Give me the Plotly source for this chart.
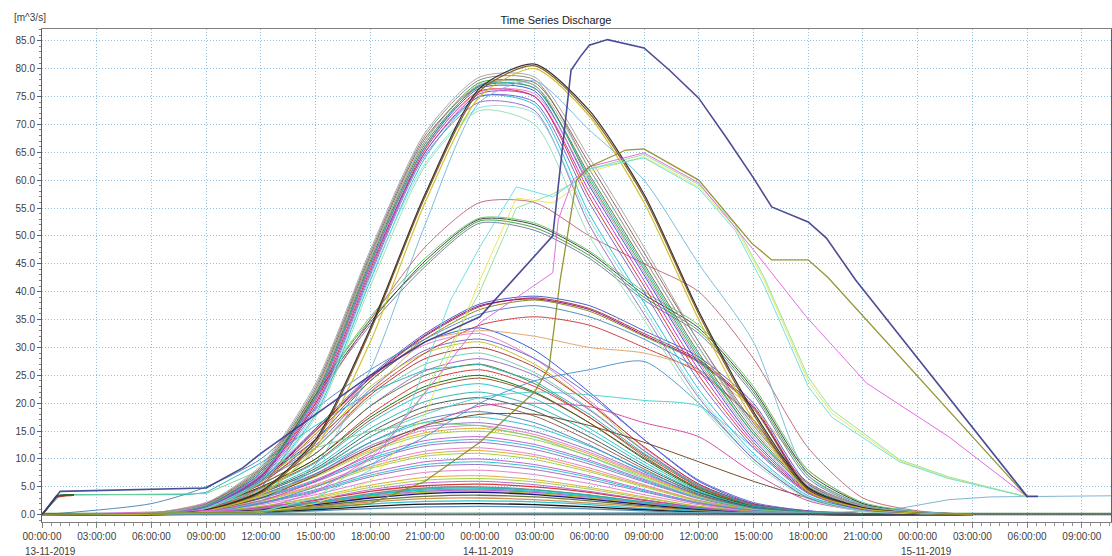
import plotly.graph_objects as go
from datetime import datetime, timedelta

T0 = datetime(2019, 11, 13)

# Common sampling hours (from 13-11-2019 00:00) used by the catchment rows
GRID_H = [0, 6, 9, 12, 15, 18, 21, 24, 27, 30, 33, 36, 39, 42, 45, 48, 51]

# Main bundle, peaks 72-79 m3/s around 14-11 01:00
MAIN_BUNDLE = [
    [0, 0.1, 1.5, 7.0, 20.0, 44.0, 65.5, 76.0, 75.0, 57.0, 41.0, 25.0, 12.5, 4.0, 1.0, 0.3, 0.1],
    [0, 0.1, 1.8, 8.0, 22.0, 46.0, 67.0, 77.5, 77.0, 60.0, 44.0, 28.0, 14.5, 4.8, 1.2, 0.4, 0.1],
    [0, 0.1, 1.2, 6.0, 18.0, 42.0, 64.0, 75.0, 73.5, 54.0, 38.0, 22.5, 11.0, 3.4, 0.8, 0.3, 0.0],
    [0, 0.2, 2.0, 8.5, 23.0, 47.0, 68.0, 78.0, 78.0, 62.0, 46.0, 30.0, 16.0, 5.5, 1.4, 0.4, 0.1],
    [0, 0.1, 1.4, 6.5, 19.0, 43.0, 64.5, 74.0, 72.5, 52.0, 36.0, 21.0, 10.0, 3.0, 0.7, 0.2, 0.0],
    [0, 0.1, 1.6, 7.5, 21.0, 45.0, 66.0, 76.5, 76.0, 59.0, 43.0, 27.0, 13.5, 4.4, 1.1, 0.3, 0.1],
    [0, 0.1, 1.3, 6.2, 18.5, 42.5, 63.0, 73.0, 72.0, 53.0, 37.0, 21.5, 10.5, 3.2, 0.8, 0.2, 0.0],
    [0, 0.2, 1.9, 8.2, 22.5, 46.5, 67.5, 77.0, 77.5, 63.0, 47.0, 31.0, 16.5, 5.8, 1.5, 0.4, 0.1],
    [0, 0.1, 1.5, 7.0, 20.5, 44.5, 65.0, 75.5, 75.0, 58.0, 42.0, 26.0, 13.0, 4.2, 1.0, 0.3, 0.1],
    [0, 0.1, 1.7, 7.8, 21.5, 45.5, 66.5, 76.8, 76.5, 61.0, 45.0, 29.0, 15.0, 5.0, 1.3, 0.4, 0.1],
    [0, 0.1, 1.1, 5.8, 17.5, 41.0, 62.5, 72.5, 70.0, 50.0, 35.0, 20.0, 9.5, 2.8, 0.6, 0.2, 0.0],
    [0, 0.2, 2.1, 8.8, 23.5, 47.5, 68.5, 78.5, 78.5, 64.0, 48.0, 31.0, 16.0, 5.6, 1.5, 0.5, 0.1],
    [0, 0.1, 1.5, 7.2, 20.8, 44.8, 65.8, 75.8, 75.5, 59.5, 43.5, 27.5, 14.0, 4.6, 1.1, 0.3, 0.1],
    [0, 0.1, 1.6, 7.4, 21.0, 45.0, 66.0, 77.0, 76.5, 60.5, 44.5, 28.5, 14.5, 4.8, 1.2, 0.4, 0.1],
    [0, 0.1, 1.4, 6.8, 19.5, 43.5, 65.0, 75.0, 74.0, 56.0, 40.0, 24.0, 12.0, 3.8, 0.9, 0.3, 0.0],
    [0, 0.2, 1.8, 8.0, 22.0, 46.0, 67.0, 77.2, 77.0, 62.0, 46.0, 30.0, 15.5, 5.2, 1.4, 0.4, 0.1],
]
MAIN_COLORS = ['#d62728', '#2ca02c', '#17becf', '#7f7f7f', '#9467bd', '#1f4fd0', '#80e0e0',
               '#8c564b', '#c020c0', '#556b2f', '#90e0b0', '#a0a0a0', '#e377c2', '#20b2aa',
               '#6a5acd', '#b0b0b0']

# Late-peaking group, ~80.5 m3/s at 14-11 03:00
PEAK80 = [
    [0, 0.1, 0.8, 4.0, 13.0, 33.0, 57.0, 76.0, 80.5, 72.0, 57.0, 36.0, 18.0, 4.5, 1.2, 0.3, 0.1],
    [0, 0.1, 0.9, 4.2, 13.5, 33.5, 57.5, 76.5, 80.8, 72.5, 57.5, 36.5, 18.5, 4.8, 1.3, 0.3, 0.1],
    [0, 0.1, 0.7, 3.6, 12.0, 31.0, 56.0, 75.0, 80.0, 71.5, 56.0, 35.0, 17.0, 4.2, 1.1, 0.3, 0.1],
]
PEAK80_COLORS = ['#8b4a10', '#202020', '#c8c020']

# Slow-receding light blue station
SLOW75 = [0, 0.1, 0.5, 2.5, 9.0, 26.0, 52.0, 74.0, 77.8, 69.0, 60.0, 45.0, 31.0, 7.0, 1.8, 0.5, 0.1]

# Single rose station peaking ~57
ROSE57 = [0, 0.1, 1.0, 5.0, 20.0, 35.0, 48.0, 56.0, 56.0, 50.0, 45.0, 40.0, 28.0, 12.0, 3.0, 0.7, 0.1]

# Group peaking ~53
PEAK53 = [
    [0, 0.1, 1.5, 7.0, 22.0, 35.0, 45.0, 52.7, 51.5, 46.5, 39.0, 33.0, 22.0, 7.0, 1.8, 0.5, 0.1],
    [0, 0.1, 1.4, 6.8, 21.5, 34.5, 45.5, 53.0, 52.0, 47.0, 39.5, 33.5, 22.5, 7.5, 2.0, 0.5, 0.1],
    [0, 0.1, 1.3, 6.5, 21.0, 34.0, 44.5, 52.3, 51.0, 46.0, 38.5, 32.5, 21.5, 6.5, 1.6, 0.4, 0.1],
    [0, 0.1, 1.5, 7.0, 22.0, 35.5, 46.0, 53.2, 52.3, 47.3, 40.0, 34.0, 23.0, 8.0, 2.2, 0.6, 0.1],
]
PEAK53_COLORS = ['#2ca02c', '#303030', '#7070a0', '#60c060']

# Group peaking ~38
PEAK38 = [
    [0, 0.1, 1.5, 6.0, 15.0, 24.5, 32.0, 37.3, 38.9, 37.0, 32.5, 27.8, 19.5, 5.0, 1.2, 0.3, 0.1],
    [0, 0.1, 1.6, 6.3, 15.5, 25.0, 32.5, 37.8, 39.2, 37.5, 33.0, 28.3, 20.0, 5.5, 1.3, 0.3, 0.1],
    [0, 0.1, 1.4, 5.8, 14.5, 24.0, 31.5, 36.8, 38.5, 36.5, 32.0, 27.3, 19.0, 4.6, 1.1, 0.3, 0.0],
    [0, 0.1, 1.5, 6.1, 15.2, 24.7, 32.2, 37.5, 38.7, 36.8, 32.2, 27.5, 19.2, 4.8, 1.2, 0.3, 0.1],
    [0, 0.1, 1.3, 5.5, 13.5, 22.0, 29.0, 34.0, 35.5, 34.0, 30.0, 25.5, 17.0, 4.2, 1.0, 0.2, 0.0],
    [0, 2.0, 5.0, 10.0, 19.0, 26.0, 31.5, 36.0, 37.5, 35.5, 31.5, 26.0, 17.0, 4.5, 1.1, 0.3, 0.1],
    [0, 0.1, 1.0, 4.5, 12.0, 22.0, 31.0, 33.0, 32.0, 30.0, 29.0, 26.0, 19.0, 8.0, 2.0, 0.5, 0.1],
]
PEAK38_COLORS = ['#b22222', '#4050c0', '#808000', '#800080', '#d03030', '#4682b4', '#e0a060']

# Individual mid-level stations with long recessions
MID_EXTRA = [
    [0, 0.1, 0.5, 2.0, 5.0, 9.0, 14.0, 20.0, 24.0, 26.0, 27.5, 20.0, 10.0, 3.0, 0.8, 0.2, 0.0],
    [0, 0.1, 0.8, 3.0, 8.0, 14.0, 18.0, 21.0, 22.0, 21.5, 20.5, 19.5, 12.0, 4.0, 1.0, 0.3, 0.1],
    [0, 0.1, 0.8, 3.0, 7.0, 12.0, 16.0, 18.0, 18.0, 16.0, 13.0, 9.5, 6.0, 3.0, 1.0, 0.3, 0.1],
    [0, 0.1, 0.6, 2.5, 6.0, 11.0, 16.0, 19.5, 20.0, 19.4, 16.5, 14.0, 7.5, 2.5, 0.7, 0.2, 0.0],
]
MID_EXTRA_COLORS = ['#4090d0', '#40d0d0', '#6b3a10', '#d040a0']

# Band of stations peaking 18-34
BAND30 = [
    [0, 0.3, 2.0, 6.7, 13.5, 24.0, 31.0, 33.5, 29.5, 22.0, 13.5, 6.0, 2.0, 0.7, 0.2, 0, 0],
    [0, 0.3, 2.2, 7.0, 14.0, 24.5, 30.5, 32.5, 28.0, 20.5, 12.0, 5.5, 1.8, 0.6, 0.2, 0, 0],
    [0, 0.2, 1.8, 6.2, 12.5, 22.5, 29.5, 31.5, 28.0, 21.5, 13.5, 6.2, 2.2, 0.7, 0.2, 0, 0],
    [0, 0.3, 2.0, 6.5, 13.0, 23.0, 29.0, 31.0, 27.0, 20.0, 11.5, 5.0, 1.6, 0.5, 0.1, 0, 0],
    [0, 0.2, 1.8, 6.0, 12.0, 21.5, 28.0, 30.0, 26.5, 20.0, 12.2, 5.5, 1.9, 0.6, 0.2, 0, 0],
    [0, 0.3, 1.9, 6.0, 12.0, 21.0, 27.0, 29.0, 25.5, 19.0, 11.5, 5.2, 1.7, 0.5, 0.1, 0, 0],
    [0, 0.2, 1.6, 5.4, 11.0, 19.5, 25.8, 28.0, 25.0, 18.8, 11.5, 5.3, 1.8, 0.6, 0.2, 0, 0],
    [0, 0.2, 1.7, 5.5, 11.0, 19.5, 25.0, 27.0, 23.5, 17.5, 10.5, 4.6, 1.5, 0.5, 0.1, 0, 0],
    [0, 0.2, 1.5, 5.0, 10.0, 18.0, 24.0, 26.0, 23.0, 17.5, 10.8, 5.0, 1.7, 0.5, 0.1, 0, 0],
    [0, 0.2, 1.5, 5.0, 10.0, 17.5, 23.0, 25.0, 22.0, 16.5, 10.0, 4.5, 1.5, 0.5, 0.1, 0, 0],
    [0, 0.2, 1.4, 4.8, 9.5, 17.0, 22.5, 24.5, 21.8, 16.5, 10.2, 4.8, 1.6, 0.5, 0.1, 0, 0],
    [0, 0.2, 1.4, 4.6, 9.3, 16.5, 21.7, 23.5, 20.8, 15.5, 9.5, 4.3, 1.4, 0.4, 0.1, 0, 0],
    [0, 0.2, 1.3, 4.3, 8.7, 15.5, 20.3, 22.0, 19.5, 14.8, 9.0, 4.1, 1.4, 0.4, 0.1, 0, 0],
    [0, 0.1, 1.2, 4.1, 8.3, 14.8, 19.4, 21.0, 18.6, 14.0, 8.6, 4.0, 1.3, 0.4, 0.1, 0, 0],
    [0, 0.1, 1.1, 3.9, 7.9, 14.0, 18.5, 20.0, 17.7, 13.3, 8.2, 3.7, 1.2, 0.4, 0.1, 0, 0],
    [0, 0.1, 1.0, 3.6, 7.3, 13.0, 17.1, 18.5, 16.5, 12.5, 7.7, 3.5, 1.2, 0.4, 0.1, 0, 0],
]

# Band of stations peaking 6-17.5
BAND15 = [
    [0, 0.2, 1.2, 3.9, 7.9, 13.0, 16.6, 17.5, 15.8, 12.3, 7.9, 3.9, 1.4, 0.5, 0.2, 0, 0],
    [0, 0.2, 1.2, 3.6, 7.4, 12.4, 15.7, 16.5, 14.9, 11.6, 7.4, 3.6, 1.3, 0.5, 0.2, 0, 0],
    [0, 0.2, 1.1, 3.5, 7.2, 12.0, 15.2, 16.0, 14.4, 11.2, 7.2, 3.5, 1.3, 0.5, 0.2, 0, 0],
    [0, 0.2, 1.1, 3.4, 7.0, 11.6, 14.7, 15.5, 14.0, 10.9, 7.0, 3.4, 1.2, 0.5, 0.2, 0, 0],
    [0, 0.1, 1.0, 3.3, 6.8, 11.3, 14.3, 15.0, 13.5, 10.5, 6.8, 3.3, 1.2, 0.4, 0.1, 0, 0],
    [0, 0.1, 1.0, 3.1, 6.3, 10.5, 13.3, 14.0, 12.6, 9.8, 6.3, 3.1, 1.1, 0.4, 0.1, 0, 0],
    [0, 0.1, 0.9, 3.0, 6.1, 10.1, 12.8, 13.5, 12.2, 9.5, 6.1, 3.0, 1.1, 0.4, 0.1, 0, 0],
    [0, 0.1, 0.9, 2.9, 5.9, 9.8, 12.4, 13.0, 11.7, 9.1, 5.9, 2.9, 1.0, 0.4, 0.1, 0, 0],
    [0, 0.1, 0.8, 2.6, 5.4, 9.0, 11.4, 12.0, 10.8, 8.4, 5.4, 2.6, 1.0, 0.4, 0.1, 0, 0],
    [0, 0.1, 0.8, 2.5, 5.2, 8.6, 10.9, 11.5, 10.4, 8.0, 5.2, 2.5, 0.9, 0.3, 0.1, 0, 0],
    [0, 0.1, 0.8, 2.4, 5.0, 8.3, 10.5, 11.0, 9.9, 7.7, 5.0, 2.4, 0.9, 0.3, 0.1, 0, 0],
    [0, 0.1, 0.7, 2.2, 4.5, 7.5, 9.5, 10.0, 9.0, 7.0, 4.5, 2.2, 0.8, 0.3, 0.1, 0, 0],
    [0, 0.1, 0.7, 2.1, 4.3, 7.1, 9.0, 9.5, 8.6, 6.7, 4.3, 2.1, 0.8, 0.3, 0.1, 0, 0],
    [0, 0.1, 0.6, 2.0, 4.1, 6.8, 8.6, 9.0, 8.1, 6.3, 4.1, 2.0, 0.7, 0.3, 0.1, 0, 0],
    [0, 0.1, 0.6, 1.8, 3.6, 6.0, 7.6, 8.0, 7.2, 5.6, 3.6, 1.8, 0.6, 0.2, 0.1, 0, 0],
    [0, 0.1, 0.5, 1.5, 3.2, 5.3, 6.7, 7.0, 6.3, 4.9, 3.2, 1.5, 0.6, 0.2, 0.1, 0, 0],
    [0, 0.1, 0.5, 1.5, 3.0, 4.9, 6.2, 6.5, 5.9, 4.6, 3.0, 1.5, 0.5, 0.2, 0.1, 0, 0],
    [0, 0.05, 0.4, 1.3, 2.7, 4.5, 5.7, 6.0, 5.4, 4.2, 2.7, 1.3, 0.5, 0.2, 0.05, 0, 0],
]

# Small stations peaking 1.5-5.5
BAND5 = [
    [0, 0.05, 0.4, 1.3, 2.6, 4.2, 5.2, 5.5, 5.0, 4.0, 2.6, 1.3, 0.5, 0.2, 0.1, 0, 0],
    [0, 0.05, 0.35, 1.1, 2.3, 3.8, 4.8, 5.0, 4.5, 3.5, 2.3, 1.1, 0.4, 0.15, 0.05, 0, 0],
    [0, 0.05, 0.3, 1.0, 2.2, 3.6, 4.6, 4.8, 4.4, 3.5, 2.3, 1.2, 0.45, 0.15, 0.05, 0, 0],
    [0, 0.05, 0.3, 1.0, 2.1, 3.5, 4.4, 4.6, 4.2, 3.3, 2.1, 1.1, 0.4, 0.15, 0.05, 0, 0],
    [0, 0.05, 0.3, 1.0, 2.0, 3.3, 4.2, 4.4, 4.0, 3.1, 2.0, 1.0, 0.4, 0.1, 0.05, 0, 0],
    [0, 0.04, 0.3, 0.9, 1.9, 3.2, 4.0, 4.2, 3.8, 3.0, 1.9, 0.9, 0.35, 0.1, 0, 0, 0],
    [0, 0.04, 0.3, 0.9, 1.8, 3.0, 3.8, 4.0, 3.6, 2.8, 1.8, 0.9, 0.3, 0.1, 0, 0, 0],
    [0, 0.03, 0.25, 0.8, 1.6, 2.6, 3.3, 3.5, 3.2, 2.5, 1.6, 0.8, 0.3, 0.1, 0, 0, 0],
    [0, 0.03, 0.2, 0.7, 1.4, 2.3, 2.9, 3.0, 2.7, 2.1, 1.4, 0.7, 0.25, 0.1, 0, 0, 0],
    [0, 0.02, 0.2, 0.6, 1.1, 1.9, 2.4, 2.5, 2.3, 1.8, 1.1, 0.6, 0.2, 0.1, 0, 0, 0],
    [0, 0.02, 0.15, 0.45, 0.9, 1.5, 1.9, 2.0, 1.8, 1.4, 0.9, 0.45, 0.15, 0.05, 0, 0, 0],
    [0, 0.01, 0.1, 0.35, 0.7, 1.1, 1.4, 1.5, 1.35, 1.05, 0.7, 0.35, 0.1, 0.05, 0, 0, 0],
]

# Station with the steep rise to 85 m3/s
NAVY_H = [0, 1, 9, 11, 12, 15, 18, 21, 24, 28, 29, 29.5, 30, 31, 33, 34.4, 36, 37.5, 39, 40, 42, 43, 44.6, 54, 54.6]
NAVY_Q = [0, 4.2, 4.8, 8.4, 11.0, 18.0, 25.0, 31.0, 35.5, 50.0, 79.7, 82.1, 84.2, 85.2, 83.7, 79.7, 74.7, 67.7,
          60.4, 55.2, 52.5, 49.6, 42.1, 3.3, 3.3]

# Stations peaking ~65 m3/s on 14-11 09:00
OLIVE65_H = [0, 12, 18, 21, 24, 27, 27.8, 28.4, 29.3, 30, 32, 33, 36, 38.9, 40, 42, 43.1, 48, 54]
OLIVE65_Q = [0, 0.5, 2.0, 6.0, 13.0, 22.0, 26.5, 42.0, 60.0, 62.4, 65.4, 65.6, 60.0, 48.7, 45.7, 45.7, 42.5, 24.8, 3.2]

MAGENTA65_H = [0, 12, 15, 18.4, 24, 28, 28.3, 29.1, 30, 33, 36, 39, 41.9, 45.2, 49.7, 54]
MAGENTA65_Q = [0, 1.0, 4.0, 11.0, 34.4, 43.4, 52.9, 60.0, 62.4, 64.9, 59.5, 47.5, 35.5, 23.6, 14.0, 3.2]

CYAN65_H = [0, 12, 15, 18, 20, 22.4, 24, 26, 28, 29.3, 30, 33, 36, 38, 39.6, 42, 43.3, 47, 49.7, 54]
CYAN65_Q = [0, 0.5, 3.0, 8.0, 18.0, 38.5, 48.0, 58.8, 57.0, 60.0, 62.0, 64.0, 58.5, 51.0, 41.0, 23.0, 17.5, 9.5, 6.5, 3.2]

YELLOW65_H = [0, 12, 15, 18, 21, 23, 24, 26, 28, 29.4, 30, 33, 36, 38, 39.6, 42, 43.3, 47, 49.7, 54]
YELLOW65_Q = [0, 0.4, 2.0, 6.0, 18.0, 34.0, 42.0, 56.8, 55.9, 59.0, 61.5, 64.2, 58.8, 51.5, 42.0, 24.0, 18.2, 9.7, 6.6, 3.2]

GREEN65_H = [0, 12, 15, 18, 21, 24, 26, 28, 29.4, 30, 33, 36, 38, 39.6, 42, 43.3, 47, 49.7, 54]
GREEN65_Q = [0, 0.6, 3.0, 10.0, 22.0, 40.0, 55.0, 57.5, 60.0, 62.0, 64.6, 59.2, 52.0, 42.5, 24.7, 18.8, 9.9, 6.8, 3.2]

# Early-responding stations (base flow from the first hour)
TEAL_EARLY_H = [0, 1, 8, 9, 12, 15, 18, 21, 24, 27, 30, 33, 36, 39, 42, 45]
TEAL_EARLY_Q = [0, 3.6, 3.6, 4.0, 9.3, 16.0, 22.0, 26.0, 27.0, 24.0, 18.0, 11.0, 5.0, 1.6, 0.5, 0.1]

LGREEN_EARLY_H = [0, 1, 9, 12, 15, 18, 21, 24, 27, 30, 33, 36, 39, 42, 45]
LGREEN_EARLY_Q = [0, 3.5, 3.8, 8.0, 12.0, 15.0, 16.5, 16.0, 14.0, 10.5, 6.5, 3.0, 1.0, 0.3, 0.1]

SHORT_H = [0, 0.8, 1.3, 1.75]
SHORT_Q = [
    [0, 3.3, 3.5, 3.6],
    [0, 3.2, 3.4, 3.5],
    [0, 3.4, 3.6, 3.6],
]
SHORT_COLORS = ['#000000', '#c03030', '#2a6a2a']

# Stations with low flow continuing to the end of the period
LATE_H = [0, 24, 44, 46.6, 49.7, 52, 54, 58.6]
LATE_Q = [0, 0.3, 0.5, 0.9, 2.7, 3.2, 3.3, 3.4]

BASE_H = [0, 58.6]
BASE_Q = [
    [0.0, 0.0],
    [0.25, 0.25],
]
BASE_COLORS = ['#303030', '#2a8a2a']

PALETTE = ['#d62728', '#2ca02c', '#1f4fd0', '#17becf', '#c020c0', '#bcbd22', '#8c564b', '#7f7f7f',
           '#9467bd', '#ff7f0e', '#000000', '#006400', '#000080', '#e377c2', '#20b2aa', '#808000',
           '#b22222', '#4682b4', '#daa520', '#556b2f', '#ff1493', '#00ced1', '#8b4513', '#9acd32',
           '#6a5acd', '#2f4f4f', '#cd853f', '#66cdaa', '#ba55d3', '#5f9ea0']


def to_time(hours):
    return [T0 + timedelta(hours=h) for h in hours]


fig = go.Figure()


def add_line(hours, values, color, width=1.0, shape='spline'):
    fig.add_trace(go.Scatter(
        x=to_time(hours), y=values, mode='lines',
        line=dict(color=color, width=width, shape=shape, smoothing=0.7),
        opacity=0.9, hoverinfo='skip', showlegend=False,
    ))


for i, q in enumerate(BAND5):
    add_line(GRID_H, q, PALETTE[(i * 7) % len(PALETTE)], 1.3)
for i, q in enumerate(BAND15):
    add_line(GRID_H, q, PALETTE[(i * 5 + 3) % len(PALETTE)])
for i, q in enumerate(BAND30):
    add_line(GRID_H, q, PALETTE[(i * 11 + 2) % len(PALETTE)])
for q, c in zip(MID_EXTRA, MID_EXTRA_COLORS):
    add_line(GRID_H, q, c)
for q, c in zip(PEAK38, PEAK38_COLORS):
    add_line(GRID_H, q, c)
for q, c in zip(PEAK53, PEAK53_COLORS):
    add_line(GRID_H, q, c)
add_line(GRID_H, ROSE57, '#c06070')
add_line(TEAL_EARLY_H, TEAL_EARLY_Q, '#20b0b0', shape='linear')
add_line(LGREEN_EARLY_H, LGREEN_EARLY_Q, '#70d090', shape='linear')
for q, c in zip(SHORT_Q, SHORT_COLORS):
    add_line(SHORT_H, q, c, 1.5, shape='linear')
for q, c in zip(BASE_Q, BASE_COLORS):
    add_line(BASE_H, q, c, 1.2, shape='linear')
add_line(LATE_H, LATE_Q, '#70b0d0', shape='linear')
for q, c in zip(MAIN_BUNDLE, MAIN_COLORS):
    add_line(GRID_H, q, c)
add_line(GRID_H, SLOW75, '#70b8d8')
for q, c in zip(PEAK80, PEAK80_COLORS):
    add_line(GRID_H, q, c, 1.2)
add_line(GREEN65_H, GREEN65_Q, '#90e090', shape='linear')
add_line(YELLOW65_H, YELLOW65_Q, '#e8e850', shape='linear')
add_line(CYAN65_H, CYAN65_Q, '#60e0e0', shape='linear')
add_line(MAGENTA65_H, MAGENTA65_Q, '#e060e0', shape='linear')
add_line(OLIVE65_H, OLIVE65_Q, '#8a8a20', 1.3, shape='linear')
add_line(NAVY_H, NAVY_Q, '#3a3a8a', 1.6, shape='linear')

# Axis ticks every three hours; dates written under the midnight ticks
TICK_H = list(range(0, 58, 3))
TICK_TEXT = ['%02d:00:00' % (h % 24) for h in TICK_H]
DATE_H = [0, 24, 48]
DATE_TEXT = ['13-11-2019', '14-11-2019', '15-11-2019']

grid_color = '#8fc0de'
axis_font = dict(family='Liberation Sans, Arial, sans-serif', size=10, color='#404040')

fig.update_xaxes(
    range=[T0, T0 + timedelta(hours=58.6)],
    tickvals=to_time(TICK_H), ticktext=TICK_TEXT, tickangle=0,
    showgrid=True, gridcolor=grid_color, griddash='1px,2px', gridwidth=1,
    showline=True, linecolor='#808080', linewidth=1, mirror=True,
    ticks='outside', ticklen=5, tickcolor='#808080',
    minor=dict(dtick=30 * 60 * 1000, ticks='outside', ticklen=3, tickcolor='#909090', showgrid=False),
    tickfont=axis_font, zeroline=False,
)
fig.update_yaxes(
    range=[-1.3, 87.1], dtick=5, tick0=0, tickformat='.1f',
    showgrid=True, gridcolor=grid_color, griddash='1px,2px', gridwidth=1,
    showline=True, linecolor='#606060', linewidth=1, mirror=True,
    ticks='outside', ticklen=4, tickcolor='#606060',
    minor=dict(dtick=1, ticks='outside', ticklen=2, tickcolor='#808080', showgrid=False),
    tickfont=axis_font, zeroline=False,
)

annotations = [
    dict(x=T0 + timedelta(hours=h), y=0, xref='x', yref='paper', text=t,
         xanchor='left', yanchor='top', xshift=-19, yshift=-22, showarrow=False, font=axis_font)
    for h, t in zip(DATE_H, DATE_TEXT)
]
annotations.append(dict(x=-0.028, y=1.0, xref='paper', yref='paper', text='[m^3/s]',
                        xanchor='left', yanchor='bottom', yshift=4, showarrow=False,
                        font=dict(family='Liberation Sans, Arial, sans-serif', size=10, color='#404040')))

fig.update_layout(
    width=1112, height=556,
    margin=dict(l=42, r=1, t=29, b=34),
    paper_bgcolor='white', plot_bgcolor='white',
    title=dict(text='Time Series Discharge', x=0.5, xanchor='center', y=1 - 20 / 556, yanchor='middle',
               font=dict(family='Liberation Sans, Arial, sans-serif', size=11, color='#202020')),
    annotations=annotations,
    showlegend=False,
)

fig.write_html('out.html')
